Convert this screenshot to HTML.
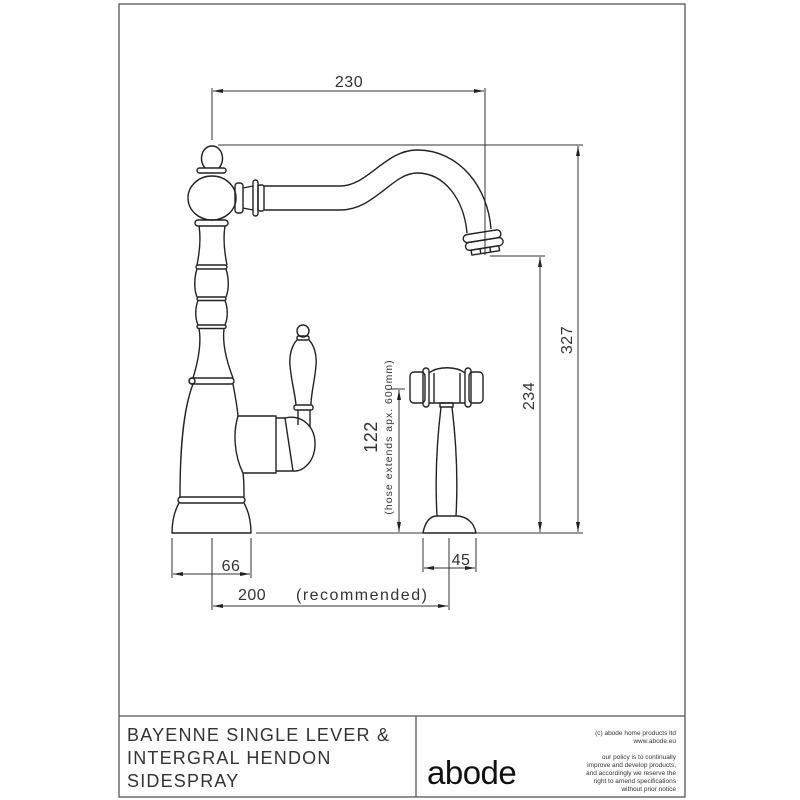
<!DOCTYPE html>
<html><head><meta charset="utf-8"><style>
html,body{margin:0;padding:0;background:#fff;}
svg{display:block;}
text{font-family:"Liberation Sans",sans-serif;fill:#333;}
</style></head><body>
<svg width="800" height="800" viewBox="0 0 800 800" xmlns="http://www.w3.org/2000/svg">
<defs>
<marker id="a" viewBox="0 0 10 4" refX="10" refY="2" markerWidth="10" markerHeight="4" orient="auto-start-reverse" markerUnits="userSpaceOnUse"><path d="M0,0 L10,2 L0,4 z" fill="#222"/></marker>
</defs>
<g fill="none" stroke="#555" stroke-width="1.3">
<rect x="119" y="4" width="566" height="793"/>
<line x1="119" y1="716" x2="685" y2="716"/>
<line x1="416" y1="716" x2="416" y2="797"/>
</g>
<g fill="none" stroke="#333" stroke-width="1">
<line x1="212" y1="88" x2="212" y2="140"/>
<line x1="485" y1="88" x2="485" y2="255"/>
<line x1="213" y1="91" x2="484" y2="91" marker-start="url(#a)" marker-end="url(#a)"/>
<line x1="218" y1="145" x2="583" y2="145"/>
<line x1="490" y1="256" x2="545" y2="256"/>
<line x1="578" y1="146" x2="578" y2="532" marker-start="url(#a)" marker-end="url(#a)"/>
<line x1="540" y1="257" x2="540" y2="532" marker-start="url(#a)" marker-end="url(#a)"/>
<line x1="256" y1="533" x2="583" y2="533"/>
<line x1="390" y1="389" x2="405" y2="389"/>
<line x1="399" y1="390" x2="399" y2="532" marker-start="url(#a)" marker-end="url(#a)"/>
<line x1="172" y1="538" x2="172" y2="578"/>
<line x1="212" y1="538" x2="212" y2="610"/>
<line x1="251" y1="538" x2="251" y2="578"/>
<line x1="173" y1="574" x2="250" y2="574" marker-start="url(#a)" marker-end="url(#a)"/>
<line x1="423" y1="538" x2="423" y2="572"/>
<line x1="449" y1="538" x2="449" y2="610"/>
<line x1="476" y1="538" x2="476" y2="572"/>
<line x1="424" y1="568" x2="475" y2="568" marker-start="url(#a)" marker-end="url(#a)"/>
<line x1="213" y1="606" x2="448" y2="606" marker-start="url(#a)" marker-end="url(#a)"/>
</g>
<g fill="none" stroke="#222" stroke-width="1.4" stroke-linejoin="round">
<path d="M205,168 C198,160 202,146 212,146 C222,146 226,160 219,168"/>
<rect x="197" y="168" width="29" height="5" rx="2.5"/>
<ellipse cx="212" cy="198" rx="24" ry="22"/>
<rect x="195" y="220" width="33" height="6" rx="3"/>
<rect x="235" y="183" width="8" height="30" rx="3"/>
<path d="M243,188 L253,186 M243,208 L253,210"/>
<rect x="253" y="180" width="5" height="36" rx="2.5"/>
<rect x="258" y="185" width="6" height="26" rx="2"/>
<path d="M264,186 L340,186 C368,186 385,150 417,150 C460,150 488,188 491,229"/>
<path d="M264,210 L340,210 C375,210 392,173 417,173 C445,173 464,200 467,233"/>
<g transform="rotate(-9 484 242)">
<rect x="464" y="232" width="38" height="8" rx="4"/>
<rect x="465" y="240" width="38" height="8" rx="4"/>
<rect x="470" y="248" width="28" height="5"/>
<line x1="479" y1="248" x2="479" y2="253"/><line x1="489" y1="248" x2="489" y2="253"/>
</g>
<path d="M199,226 C201,238 200,250 197,265 M225,226 C223,238 224,250 227,265"/>
<rect x="196" y="265" width="31" height="4" rx="2"/>
<path d="M197,269 C194,278 194,290 197,297 M226,269 C229,278 229,290 226,297"/>
<rect x="197" y="297" width="29" height="3.5" rx="1.7"/>
<path d="M198,300.5 C195,308 195,318 198,325 M225,300.5 C228,308 228,318 225,325"/>
<rect x="197" y="325" width="29" height="3.5" rx="1.7"/>
<path d="M199,328.5 C202,345 197,365 193,378 M224,328.5 C222,345 228,365 233,378"/>
<rect x="189" y="378" width="45" height="6" rx="3"/>
<circle cx="192" cy="381" r="3"/>
<path d="M193,384 C183,410 180,450 180,497"/>
<path d="M233,384 C235,395 237,405 238,416"/>
<path d="M243,473 C244,480 244,490 244,497"/>
<rect x="178" y="497" width="67" height="6" rx="3"/>
<path d="M179,503 C174,512 172,522 172,533 L251,533 C251,522 249,512 244,503"/>
<path d="M238,416 L276,416 L276,473 L243,473 C234,455 233,432 238,416 Z"/>
<path d="M276,418 L285,418 L293,471 L276,471"/>
<path d="M285,418 C300,414 316,425 315,446 C314,462 303,472 293,471"/>
<circle cx="303" cy="331" r="6"/>
<rect x="297" y="336" width="12" height="4" rx="1.5"/>
<path d="M297,340 C292,345 289,355 290,365 C291,380 295,393 296,405 M309,340 C314,345 317,355 316,365 C315,380 311,393 311,405"/>
<rect x="294" y="405" width="19" height="5" rx="2"/>
<path d="M298,410 L298,425 M310,410 L310,427"/>
<rect x="410" y="372" width="15" height="31" rx="4"/>
<rect x="423" y="368" width="6" height="39" rx="3"/>
<path d="M429,373 C438,366 456,366 465,373 M429,403 L465,403"/>
<line x1="434" y1="373" x2="434" y2="403"/><line x1="460" y1="373" x2="460" y2="403"/>
<rect x="465" y="368" width="6" height="39" rx="3"/>
<rect x="469" y="372" width="14" height="31" rx="4"/>
<rect x="440" y="403" width="13" height="4"/>
<path d="M441,407 C437,440 435,480 437,516 M452,407 C456,440 458,480 456,516"/>
<path d="M437,516 L456,516 C466,516 474,522 476,533 L423,533 C425,522 430,516 437,516 Z"/>
</g>
<g font-size="16" letter-spacing="0.5" style="fill:#444">
<text x="349" y="87" text-anchor="middle">230</text>
<text x="231" y="571" text-anchor="middle">66</text>
<text x="461" y="565" text-anchor="middle">45</text>
<text x="238" y="600">200</text>
<text x="296" y="600" letter-spacing="1.5">(recommended)</text>
<text transform="translate(572,340) rotate(-90)" text-anchor="middle">327</text>
<text transform="translate(534,396) rotate(-90)" text-anchor="middle">234</text>
<text transform="translate(377,437) rotate(-90)" text-anchor="middle" font-size="18">122</text>
<text transform="translate(392,437) rotate(-90)" text-anchor="middle" font-size="10.5" letter-spacing="1">(hose extends apx. 600mm)</text>
</g>
<g font-size="18" letter-spacing="1.2" style="fill:#333">
<text x="127" y="741">BAYENNE SINGLE LEVER &amp;</text>
<text x="127" y="764">INTERGRAL HENDON</text>
<text x="127" y="787">SIDESPRAY</text>
</g>
<text x="427" y="784" font-size="33" letter-spacing="-0.5" style="fill:#111">abode</text>
<g font-size="6.5" text-anchor="end">
<text x="676" y="735">(c) abode home products ltd</text>
<text x="676" y="743">www.abode.eu</text>
<text x="676" y="759">our policy is to continually</text>
<text x="676" y="767">improve and develop products,</text>
<text x="676" y="775">and accordingly we reserve the</text>
<text x="676" y="783">right to amend specifications</text>
<text x="676" y="791">without prior notice</text>
</g>
</svg>
</body></html>
